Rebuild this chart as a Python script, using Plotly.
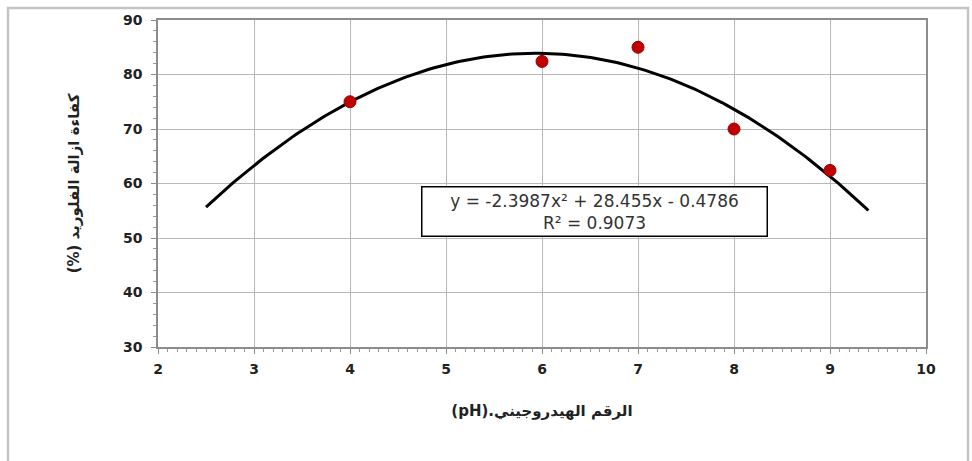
import numpy as np
import plotly.graph_objects as go

# Data
ph_values = [4, 6, 7, 8, 9]
removal_eff = [75.0, 82.4, 85.0, 70.0, 62.4]

# Trendline coefficients shown on the chart (y = a x^2 + b x + c)
trend_coeffs = [-2.3987, 28.455, -0.4786]
trend_range = [2.5, 9.4]
r_squared = 0.9073

x_ticks = [2, 3, 4, 5, 6, 7, 8, 9, 10]
y_ticks = [30, 40, 50, 60, 70, 80, 90]

tx = np.linspace(trend_range[0], trend_range[1], 200)
ty = np.polyval(trend_coeffs, tx)

fig = go.Figure()
fig.add_trace(go.Scatter(x=tx, y=ty, mode="lines",
                         line=dict(color="black", width=3),
                         hoverinfo="skip", showlegend=False))
fig.add_trace(go.Scatter(x=ph_values, y=removal_eff, mode="markers",
                         marker=dict(color="#c00000", size=12,
                                     line=dict(color="#9a0000", width=1)),
                         showlegend=False))

eq_text = "y = -2.3987x² + 28.455x - 0.4786<br>R² = {:.4f}".format(r_squared)
fig.add_annotation(x=6.55, y=54.8, xref="x", yref="y", text=eq_text,
                   showarrow=False, bgcolor="white", bordercolor="black",
                   borderwidth=1.5, borderpad=3, width=338,
                   font=dict(family="DejaVu Sans", size=17, color="#333"),
                   align="center")

# outer frame of the chart object
fig.add_shape(type="rect", xref="paper", yref="paper",
              x0=-0.1953, x1=1.0547, y0=-0.36, y1=1.0364,
              line=dict(color="#c4c4c4", width=2.5), layer="below")

axis_font = dict(family="DejaVu Sans", size=14, color="#222")
fig.update_layout(
    width=972, height=461,
    margin=dict(l=158, r=46, t=17, b=114),
    paper_bgcolor="white", plot_bgcolor="white",
    font=dict(family="DejaVu Sans"),
    xaxis=dict(range=[2, 10], tickvals=x_ticks, ticktext=[f"<b>{v}</b>" for v in x_ticks],
               tickfont=axis_font, showgrid=True, gridcolor="#b8b8b8", gridwidth=1,
               showline=True, linecolor="#8c8c8c", linewidth=1.5, mirror=True,
               ticks="outside", ticklen=5, tickcolor="#8c8c8c", zeroline=False,
               ticklabelstandoff=3,
               minor=dict(dtick=0.1, ticks="outside", ticklen=3, tickcolor="#999", showgrid=False),
               title=dict(text="<b>(pH).الرقم الهيدروجيني</b>",
                          font=dict(family="DejaVu Sans", size=15, color="#222"),
                          standoff=30)),
    yaxis=dict(range=[30, 90], tickvals=y_ticks, ticktext=[f"<b>{v}</b>" for v in y_ticks],
               tickfont=axis_font, showgrid=True, gridcolor="#b8b8b8", gridwidth=1,
               showline=True, linecolor="#8c8c8c", linewidth=1.5, mirror=True,
               ticks="outside", ticklen=5, tickcolor="#8c8c8c", zeroline=False,
               ticklabelstandoff=6,
               minor=dict(dtick=2, ticks="outside", ticklen=3, tickcolor="#999", showgrid=False),
               title=dict(text="<b>(%) كفاءة ازالة الفلوريد</b>",
                          font=dict(family="DejaVu Sans", size=15, color="#222"),
                          standoff=40)),
)

fig.write_html("out.html")
